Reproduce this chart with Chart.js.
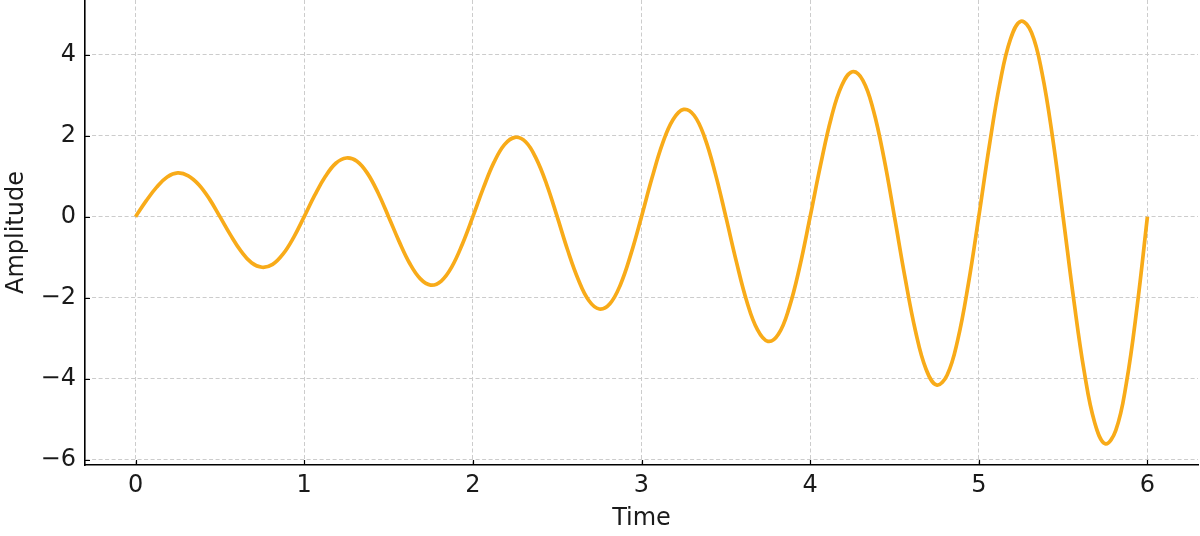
<!DOCTYPE html>
<html>
<head>
<meta charset="utf-8">
<script src="https://cdn.jsdelivr.net/npm/chart.js@4/dist/chart.umd.min.js"></script>
<style>
  html, body { margin: 0; padding: 0; background: #fff; }
  #wrap { width: 1200px; height: 536px; overflow: hidden; }
</style>
</head>
<body>
<div id="wrap"><canvas id="c" width="1200" height="536"></canvas></div>
<script>
// Time samples (every 1/16 of a period) and amplitudes
const times = [
  0, 0.0625, 0.125, 0.1875, 0.25, 0.3125, 0.375, 0.4375, 0.5, 0.5625, 0.625, 0.6875, 0.75, 0.8125, 0.875, 0.9375,
  1, 1.0625, 1.125, 1.1875, 1.25, 1.3125, 1.375, 1.4375, 1.5, 1.5625, 1.625, 1.6875, 1.75, 1.8125, 1.875, 1.9375,
  2, 2.0625, 2.125, 2.1875, 2.25, 2.3125, 2.375, 2.4375, 2.5, 2.5625, 2.625, 2.6875, 2.75, 2.8125, 2.875, 2.9375,
  3, 3.0625, 3.125, 3.1875, 3.25, 3.3125, 3.375, 3.4375, 3.5, 3.5625, 3.625, 3.6875, 3.75, 3.8125, 3.875, 3.9375,
  4, 4.0625, 4.125, 4.1875, 4.25, 4.3125, 4.375, 4.4375, 4.5, 4.5625, 4.625, 4.6875, 4.75, 4.8125, 4.875, 4.9375,
  5, 5.0625, 5.125, 5.1875, 5.25, 5.3125, 5.375, 5.4375, 5.5, 5.5625, 5.625, 5.6875, 5.75, 5.8125, 5.875, 5.9375,
  6];
const amplitude = [
  0, 0.39, 0.73, 0.98, 1.08, 1.01, 0.79, 0.44, 0, -0.45, -0.85, -1.14, -1.25, -1.18, -0.92, -0.51,
  0, 0.53, 0.99, 1.32, 1.45, 1.37, 1.07, 0.59, 0, -0.61, -1.15, -1.53, -1.69, -1.59, -1.24, -0.68,
  0, 0.71, 1.34, 1.78, 1.96, 1.85, 1.44, 0.80, 0, -0.83, -1.55, -2.07, -2.28, -2.15, -1.68, -0.92,
  0, 0.96, 1.81, 2.40, 2.65, 2.50, 1.95, 1.07, 0, -1.11, -2.10, -2.79, -3.08, -2.90, -2.26, -1.25,
  0, 1.29, 2.44, 3.24, 3.58, 3.37, 2.63, 1.45, 0, -1.50, -2.83, -3.77, -4.16, -3.91, -3.05, -1.68,
  0, 1.75, 3.29, 4.38, 4.83, 4.55, 3.55, 1.96, 0, -2.03, -3.82, -5.09, -5.61, -5.28, -4.12, -2.27,
  0];
const xTicks = [0, 1, 2, 3, 4, 5, 6];
const yTicks = [-6, -4, -2, 0, 2, 4];
const xLabel = 'Time';
const yLabel = 'Amplitude';

const FONT = "'DejaVu Sans', sans-serif";
const TXT = '#1a1a1a';
const minus = v => (v < 0 ? '\u2212' + Math.abs(v) : String(v));

const innerTicks = {
  id: 'innerTicks',
  afterDraw(chart) {
    const { ctx, chartArea: a, scales: { x, y } } = chart;
    ctx.save();
    ctx.strokeStyle = '#000';
    ctx.lineWidth = 1.2;
    ctx.beginPath();
    xTicks.forEach(t => {
      const px = Math.round(x.getPixelForValue(t)) + 0.5;
      ctx.moveTo(px, a.bottom); ctx.lineTo(px, a.bottom - 5);
    });
    yTicks.forEach(t => {
      const py = Math.round(y.getPixelForValue(t)) + 0.5;
      ctx.moveTo(a.left, py); ctx.lineTo(a.left + 5, py);
    });
    ctx.stroke();
    ctx.restore();
  }
};

new Chart(document.getElementById('c'), {
  type: 'line',
  data: {
    datasets: [{
      data: times.map((t, i) => ({ x: t, y: amplitude[i] })),
      borderColor: '#f8ab19',
      borderWidth: 3.7,
      pointRadius: 0,
      tension: 0.4,
      fill: false
    }]
  },
  options: {
    responsive: false,
    animation: false,
    events: [],
    layout: { padding: { top: 0, right: 2, left: 0, bottom: 0 } },
    plugins: { legend: { display: false }, tooltip: { enabled: false } },
    scales: {
      x: {
        type: 'linear',
        min: -0.3, max: 6.3,
        afterBuildTicks: s => { s.ticks = xTicks.map(v => ({ value: v })); },
        afterFit: s => { s.height = 71; s.paddingLeft = 0; s.paddingRight = 0; },
        ticks: { color: TXT, font: { family: FONT, size: 24 }, padding: 6, maxRotation: 0,
                 callback: v => minus(v) },
        grid: { color: '#cccccc', lineWidth: 1, drawTicks: false },
        border: { display: true, color: '#000', width: 1.6, dash: [4, 2.5] },
        title: { display: true, text: xLabel, color: TXT, font: { family: FONT, size: 24 }, padding: { top: 0, bottom: 3 } }
      },
      y: {
        type: 'linear',
        min: -6.135, max: 5.353,
        afterBuildTicks: s => { s.ticks = yTicks.map(v => ({ value: v })); },
        afterFit: s => { s.width = 85; s.paddingTop = 0; s.paddingBottom = 0; },
        ticks: { color: TXT, font: { family: FONT, size: 24 }, padding: 9,
                 callback: v => minus(v) },
        grid: { color: '#cccccc', lineWidth: 1, drawTicks: false },
        border: { display: true, color: '#000', width: 1.6, dash: [4, 2.5] },
        title: { display: true, text: yLabel, color: TXT, font: { family: FONT, size: 24 }, padding: { top: 2, bottom: 0 } }
      }
    }
  },
  plugins: [innerTicks]
});
</script>
</body>
</html>
